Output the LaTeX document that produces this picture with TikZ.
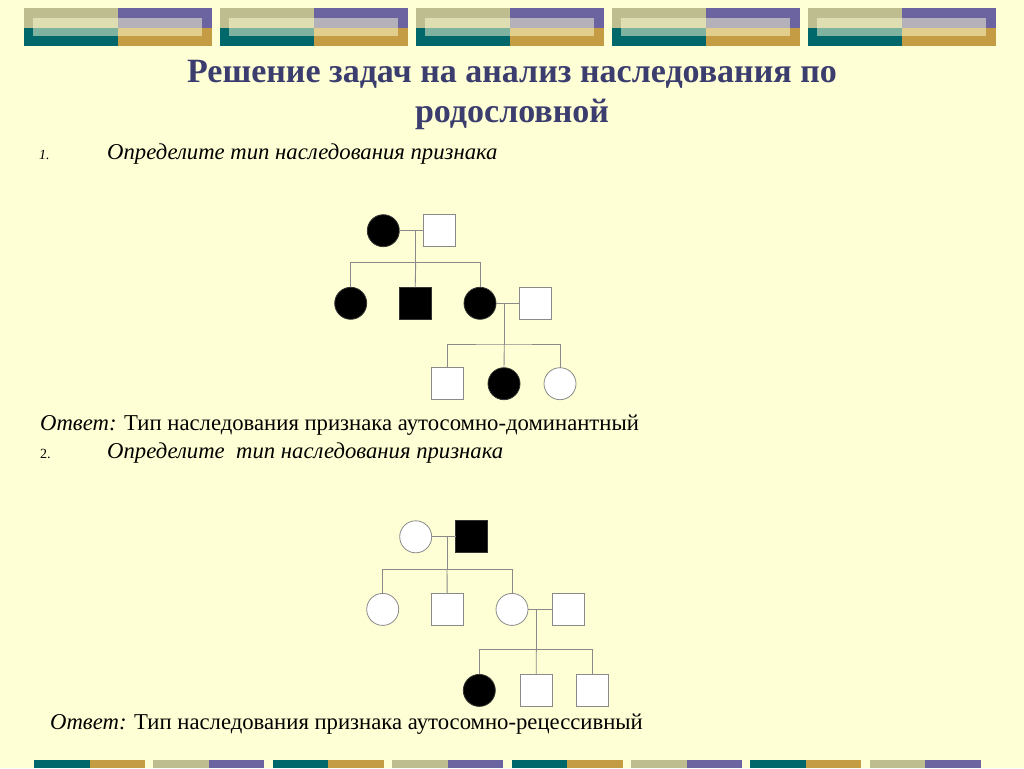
\documentclass[tikz,border=0pt]{standalone}
\usepackage{fontspec}
\setmainfont{Liberation Serif}
\definecolor{bg}{HTML}{FFFFD5}
\definecolor{khaki}{HTML}{BDBD8F}
\definecolor{purp}{HTML}{6C64A0}
\definecolor{tealc}{HTML}{00686A}
\definecolor{gold}{HTML}{C49C44}
\definecolor{titlec}{HTML}{3A3D6E}
\definecolor{linec}{HTML}{8A8A8A}
\tikzset{
  person/.style={draw=linec, line width=0.8pt, fill=white, inner sep=0pt, outer sep=0pt},
  fem/.style={person, circle, minimum size=32pt},
  mal/.style={person, rectangle, minimum size=32pt},
  aff/.style={fill=black, draw=black!80},
  link/.style={draw=linec, line width=0.9pt},
  titletext/.style={font=\fontsize{34}{40}\selectfont\bfseries, text=titlec, anchor=base, inner sep=0pt},
  bodytext/.style={font=\fontsize{22.7}{27}\selectfont, anchor=base west, inner sep=0pt},
  itbody/.style={font=\fontsize{22.7}{27}\selectfont\itshape, anchor=base west, inner sep=0pt},
  numtext/.style={font=\fontsize{14}{16}\selectfont, anchor=base west, inner sep=0pt},
}
\begin{document}
\begin{tikzpicture}[x=1pt,y=-1pt]
\useasboundingbox (0,0) rectangle (1024,768);
\fill[bg] (0,0) rectangle (1024,768);
% top banner
\foreach \i in {0,...,4}{
  \pgfmathsetmacro{\xa}{24+196*\i}
  \fill[khaki] (\xa,8) rectangle ++(94,20);
  \fill[purp] (\xa+94,8) rectangle ++(94,20);
  \fill[tealc] (\xa,28) rectangle ++(94,18);
  \fill[gold] (\xa+94,28) rectangle ++(94,18);
  \fill[bg, opacity=0.5] (\xa+9,18) rectangle ++(169,18);
}
% bottom banner
\foreach \i in {0,...,7}{
  \pgfmathsetmacro{\xa}{34+119.4*\i}
  \ifodd\i
    \fill[khaki] (\xa,760) rectangle ++(55.5,8);
    \fill[purp] (\xa+55.5,760) rectangle ++(55.5,8);
  \else
    \fill[tealc] (\xa,760) rectangle ++(55.5,8);
    \fill[gold] (\xa+55.5,760) rectangle ++(55.5,8);
  \fi
}
% title
\node[titletext] (t1) at (512,82) {Решение задач на анализ наследования по};
\node[titletext] (t2) at (512,122) {родословной};
% task 1
\node[numtext, font=\fontsize{14}{16}\selectfont\itshape] (n1) at (39,159) {1.};
\node[itbody] (q1) at (107,159) {Определите тип наследования признака};
% pedigree 1
\node[fem, aff] (p1a) at (383.3,230.7) {};
\node[mal] (p1b) at (439.2,230.7) {};
\node[fem, aff] (p1c) at (350.7,303.3) {};
\node[mal, aff] (p1d) at (415.2,303.3) {};
\node[fem, aff] (p1e) at (480,303.3) {};
\node[mal] (p1f) at (535.8,303.3) {};
\node[mal] (p1g) at (447.3,383.7) {};
\node[fem, aff] (p1h) at (504,383.7) {};
\node[fem] (p1i) at (560,383.7) {};
\coordinate (m1) at (415.7,230.7);
\coordinate (s1) at (415.7,262.7);
\coordinate (m2) at (504.3,303.3);
\coordinate (s2) at (504.3,344);
\draw[link] (p1a) -- (p1b);
\draw[link] (m1) -- (s1);
\draw[link] (p1c.north) |- (s1) -| (p1e.north);
\draw[link] (s1) -- (p1d.north);
\draw[link] (p1e) -- (p1f);
\draw[link] (m2) -- (s2);
\draw[link] (p1g.north) |- (s2) -| (p1i.north);
\draw[link] (s2) -- (p1h.north);
% answer 1
\node[bodytext] (a1) at (40,430) {\textit{Ответ:} Тип наследования признака аутосомно-доминантный};
% task 2
\node[numtext] (n2) at (40,458) {2.};
\node[itbody] (q2) at (107,458) {Определите\ \ тип наследования признака};
% pedigree 2
\node[fem] (p2a) at (415.7,536.8) {};
\node[mal, aff] (p2b) at (471.7,536.8) {};
\node[fem] (p2c) at (382.7,609.4) {};
\node[mal] (p2d) at (447.2,609.4) {};
\node[fem] (p2e) at (512,609.4) {};
\node[mal] (p2f) at (568.2,609.4) {};
\node[fem, aff] (p2g) at (479.3,690.4) {};
\node[mal] (p2h) at (536.2,690.4) {};
\node[mal] (p2i) at (592.8,690.4) {};
\coordinate (m3) at (447,536.8);
\coordinate (s3) at (447,569.3);
\coordinate (m4) at (536.3,609.4);
\coordinate (s4) at (536.3,649.3);
\draw[link] (p2a) -- (p2b);
\draw[link] (m3) -- (s3);
\draw[link] (p2c.north) |- (s3) -| (p2e.north);
\draw[link] (s3) -- (p2d.north);
\draw[link] (p2e) -- (p2f);
\draw[link] (m4) -- (s4);
\draw[link] (p2g.north) |- (s4) -| (p2i.north);
\draw[link] (s4) -- (p2h.north);
% answer 2
\node[bodytext] (a2) at (50,729) {\textit{Ответ:} Тип наследования признака аутосомно-рецессивный};
\end{tikzpicture}
\end{document}
